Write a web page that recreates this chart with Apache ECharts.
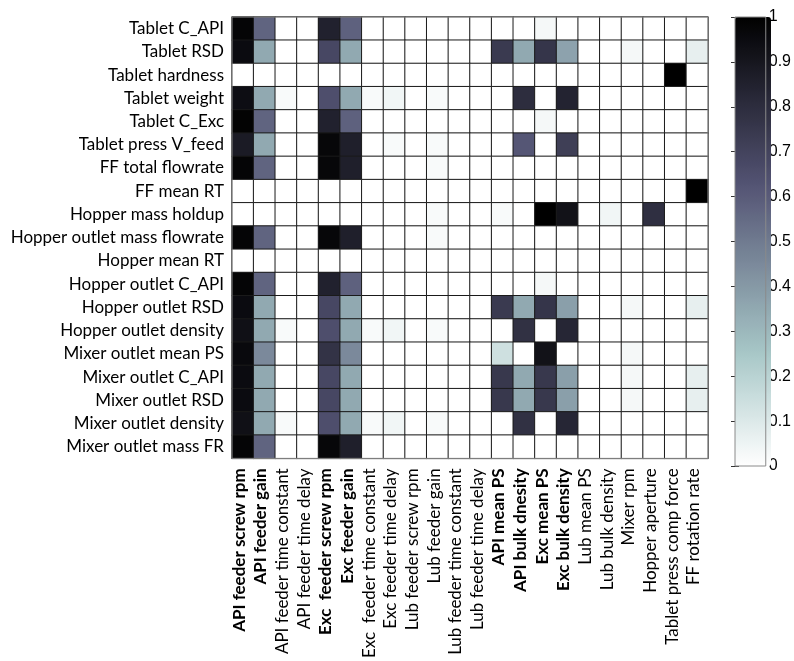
<!DOCTYPE html>
<html>
<head>
<meta charset="utf-8">
<script src="https://cdn.jsdelivr.net/npm/echarts@6/dist/echarts.min.js"></script>
<style>
  html, body { margin: 0; padding: 0; background: #fff; }
  #chart { width: 794px; height: 661px; }
</style>
</head>
<body>
<div id="chart"></div>
<script>
// Process inputs (columns) — bold ones are the dominant inputs
const inputs = [
  'API feeder screw rpm', 'API feeder gain', 'API feeder time constant', 'API feeder time delay',
  'Exc  feeder screw rpm', 'Exc feeder gain', 'Exc  feeder time constant', 'Exc feeder time delay',
  'Lub feeder screw rpm', 'Lub feeder gain', 'Lub feeder time constant', 'Lub feeder time delay',
  'API mean PS', 'API bulk dnesity', 'Exc mean PS', 'Exc bulk density',
  'Lub mean PS', 'Lub bulk density', 'Mixer rpm', 'Hopper aperture',
  'Tablet press comp force', 'FF rotation rate'
];
const boldInputs = [0, 1, 4, 5, 12, 13, 14, 15];

// Process outputs (rows, top to bottom)
const outputs = [
  'Tablet C_API', 'Tablet RSD', 'Tablet hardness', 'Tablet weight', 'Tablet C_Exc',
  'Tablet press V_feed', 'FF total flowrate', 'FF mean RT', 'Hopper mass holdup',
  'Hopper outlet mass flowrate', 'Hopper mean RT', 'Hopper outlet C_API', 'Hopper outlet RSD',
  'Hopper outlet density', 'Mixer outlet mean PS', 'Mixer outlet C_API', 'Mixer outlet RSD',
  'Mixer outlet density', 'Mixer outlet mass FR'
];

// Sensitivity indices, one array per output, ordered as `inputs`
const tabletCAPI      = [0.98, 0.57, 0, 0, 0.85, 0.58, 0, 0, 0, 0, 0, 0, 0, 0, 0.03, 0, 0, 0, 0, 0, 0, 0];
const tabletRSD       = [0.95, 0.35, 0, 0, 0.68, 0.35, 0, 0, 0, 0, 0, 0, 0.74, 0.35, 0.76, 0.37, 0, 0, 0.03, 0, 0, 0.07];
const tabletHardness  = [0, 0, 0, 0, 0, 0, 0, 0, 0, 0, 0, 0, 0, 0, 0, 0, 0, 0, 0, 0, 1.0, 0];
const tabletWeight    = [0.94, 0.35, 0.02, 0, 0.65, 0.35, 0.02, 0.04, 0, 0.02, 0, 0, 0, 0.80, 0, 0.84, 0, 0, 0, 0, 0, 0];
const tabletCExc      = [0.99, 0.57, 0, 0, 0.85, 0.58, 0, 0, 0, 0, 0, 0, 0, 0, 0.03, 0, 0, 0, 0, 0, 0, 0];
const pressVfeed      = [0.88, 0.35, 0, 0, 0.97, 0.86, 0, 0.02, 0, 0.02, 0, 0, 0, 0.62, 0, 0.72, 0, 0, 0, 0, 0, 0];
const ffTotalFlow     = [0.98, 0.57, 0, 0, 0.97, 0.86, 0, 0, 0, 0.02, 0, 0, 0, 0, 0, 0, 0, 0, 0, 0, 0, 0];
const ffMeanRT        = [0, 0, 0, 0, 0, 0, 0, 0, 0, 0, 0, 0, 0, 0, 0, 0, 0, 0, 0, 0, 0, 1.0];
const hopperHoldup    = [0, 0, 0, 0, 0, 0, 0, 0, 0, 0.02, 0, 0, 0.02, 0, 1.0, 0.92, 0, 0.04, 0, 0.79, 0, 0];
const hopperMassFlow  = [0.98, 0.57, 0, 0, 0.97, 0.86, 0, 0, 0, 0.02, 0, 0, 0, 0, 0, 0, 0, 0, 0, 0, 0, 0];
const hopperMeanRT    = [0, 0, 0, 0, 0, 0, 0, 0, 0, 0, 0, 0, 0, 0, 0, 0, 0, 0, 0, 0, 0, 0];
const hopperCAPI      = [0.98, 0.57, 0, 0, 0.85, 0.58, 0, 0, 0, 0, 0, 0, 0, 0, 0.03, 0, 0, 0, 0, 0, 0, 0];
const hopperRSD       = [0.95, 0.35, 0, 0, 0.68, 0.35, 0, 0, 0, 0, 0, 0, 0.74, 0.35, 0.76, 0.38, 0, 0, 0.03, 0, 0, 0.07];
const hopperDensity   = [0.93, 0.35, 0.02, 0, 0.65, 0.35, 0.02, 0.04, 0, 0.02, 0, 0, 0, 0.78, 0, 0.83, 0, 0, 0, 0, 0, 0];
const mixerMeanPS     = [0.96, 0.45, 0, 0, 0.77, 0.45, 0, 0, 0, 0, 0, 0, 0.14, 0, 0.92, 0, 0, 0, 0.03, 0, 0, 0];
const mixerCAPI       = [0.95, 0.35, 0, 0, 0.68, 0.35, 0, 0, 0, 0, 0, 0, 0.75, 0.35, 0.75, 0.38, 0, 0, 0.03, 0, 0, 0.07];
const mixerRSD        = [0.95, 0.35, 0, 0, 0.68, 0.35, 0, 0, 0, 0, 0, 0, 0.75, 0.35, 0.75, 0.38, 0, 0, 0.03, 0, 0, 0.07];
const mixerDensity    = [0.93, 0.35, 0.02, 0, 0.65, 0.35, 0.02, 0.04, 0, 0.02, 0, 0, 0, 0.78, 0, 0.83, 0, 0, 0, 0, 0, 0];
const mixerMassFR     = [0.98, 0.57, 0, 0, 0.97, 0.86, 0, 0, 0, 0, 0, 0, 0, 0, 0, 0, 0, 0, 0, 0, 0, 0];

const rows = [
  tabletCAPI, tabletRSD, tabletHardness, tabletWeight, tabletCExc, pressVfeed, ffTotalFlow,
  ffMeanRT, hopperHoldup, hopperMassFlow, hopperMeanRT, hopperCAPI, hopperRSD, hopperDensity,
  mixerMeanPS, mixerCAPI, mixerRSD, mixerDensity, mixerMassFR
];

// Colour bar tick values
const colorbarTicks = [0, 0.1, 0.2, 0.3, 0.4, 0.5, 0.6, 0.7, 0.8, 0.9, 1];

// Reversed "bone" colormap: white at 0, black at 1
function clamp01(x) { return Math.max(0, Math.min(1, x)); }
function bone(t) {
  const hr = clamp01(t / 0.375);
  const hg = clamp01((t - 0.375) / 0.375);
  const hb = clamp01((t - 0.75) / 0.25);
  const r = (7 * t + hb) / 8, g = (7 * t + hg) / 8, b = (7 * t + hr) / 8;
  const h = v => Math.round(v * 255).toString(16).padStart(2, '0');
  return '#' + h(r) + h(g) + h(b);
}
const N = 64;
const palette = [];
for (let i = 0; i < N; i++) palette.push(bone(1 - i / (N - 1)));

const cells = [];
rows.forEach((vals, r) => vals.forEach((v, c) => cells.push([c, r, v])));

const FONT = 'Lato';
const chart = echarts.init(document.getElementById('chart'), null, { renderer: 'canvas' });

chart.setOption({
  animation: false,
  backgroundColor: '#fff',
  grid: [
    { left: 232, top: 17, width: 476, height: 446, show: true, borderColor: '#8a8a8a', borderWidth: 1,
      backgroundColor: 'transparent', z: 3 },
    { left: 735, top: 17, width: 36, height: 449, show: true, borderColor: '#8a8a8a', borderWidth: 1,
      backgroundColor: 'transparent', z: 10 }
  ],
  xAxis: [
    {
      type: 'category', gridIndex: 0, data: inputs, position: 'bottom',
      axisLine: { show: false }, axisTick: { show: false }, splitLine: { show: false },
      axisLabel: {
        interval: 0, rotate: 90, margin: 10, color: '#000', fontFamily: FONT, fontSize: 17,
        formatter: (val, idx) => boldInputs.includes(idx) ? '{b|' + val + '}' : '{n|' + val + '}',
        rich: {
          b: { fontWeight: 'bold', fontFamily: FONT, fontSize: 17, color: '#000', padding: [0, 0, 7, 0] },
          n: { fontFamily: FONT, fontSize: 17, color: '#000', padding: [0, 0, 7, 0] }
        }
      }
    },
    { type: 'value', gridIndex: 1, min: 0, max: 1, show: false }
  ],
  yAxis: [
    {
      type: 'category', gridIndex: 0, data: outputs, inverse: true,
      axisLine: { show: false }, axisTick: { show: false }, splitLine: { show: false },
      axisLabel: { interval: 0, margin: 8, color: '#000', fontFamily: FONT, fontSize: 17 }
    },
    {
      type: 'value', gridIndex: 1, min: 0, max: 1, interval: 0.1, position: 'right',
      axisLine: { show: false }, splitLine: { show: false },
      axisTick: { show: true, inside: true, length: 4, lineStyle: { color: '#333' } },
      axisLabel: {
        margin: 3, color: '#000', fontFamily: 'Liberation Sans', fontSize: 16,
        formatter: v => colorbarTicks.includes(Math.round(v * 10) / 10) ? String(Math.round(v * 10) / 10) : ''
      }
    },
    {
      type: 'value', gridIndex: 1, min: 0, max: 1, interval: 0.1, position: 'left',
      axisLine: { show: false }, splitLine: { show: false }, axisLabel: { show: false },
      axisTick: { show: true, inside: true, length: 4, lineStyle: { color: '#333' } }
    }
  ],
  visualMap: {
    type: 'continuous', min: 0, max: 1, seriesIndex: 0,
    orient: 'vertical', left: 735, top: 17, itemWidth: 36, itemHeight: 449,
    padding: 0, calculable: false, hoverLink: false, realtime: false,
    inRange: { color: palette }, text: null, showLabel: false
  },
  series: [
    {
      type: 'heatmap', xAxisIndex: 0, yAxisIndex: 0, data: cells,
      itemStyle: { borderColor: '#1a1a1a', borderWidth: 1 },
      emphasis: { disabled: true }, label: { show: false }
    }
  ]
});
</script>
</body>
</html>
